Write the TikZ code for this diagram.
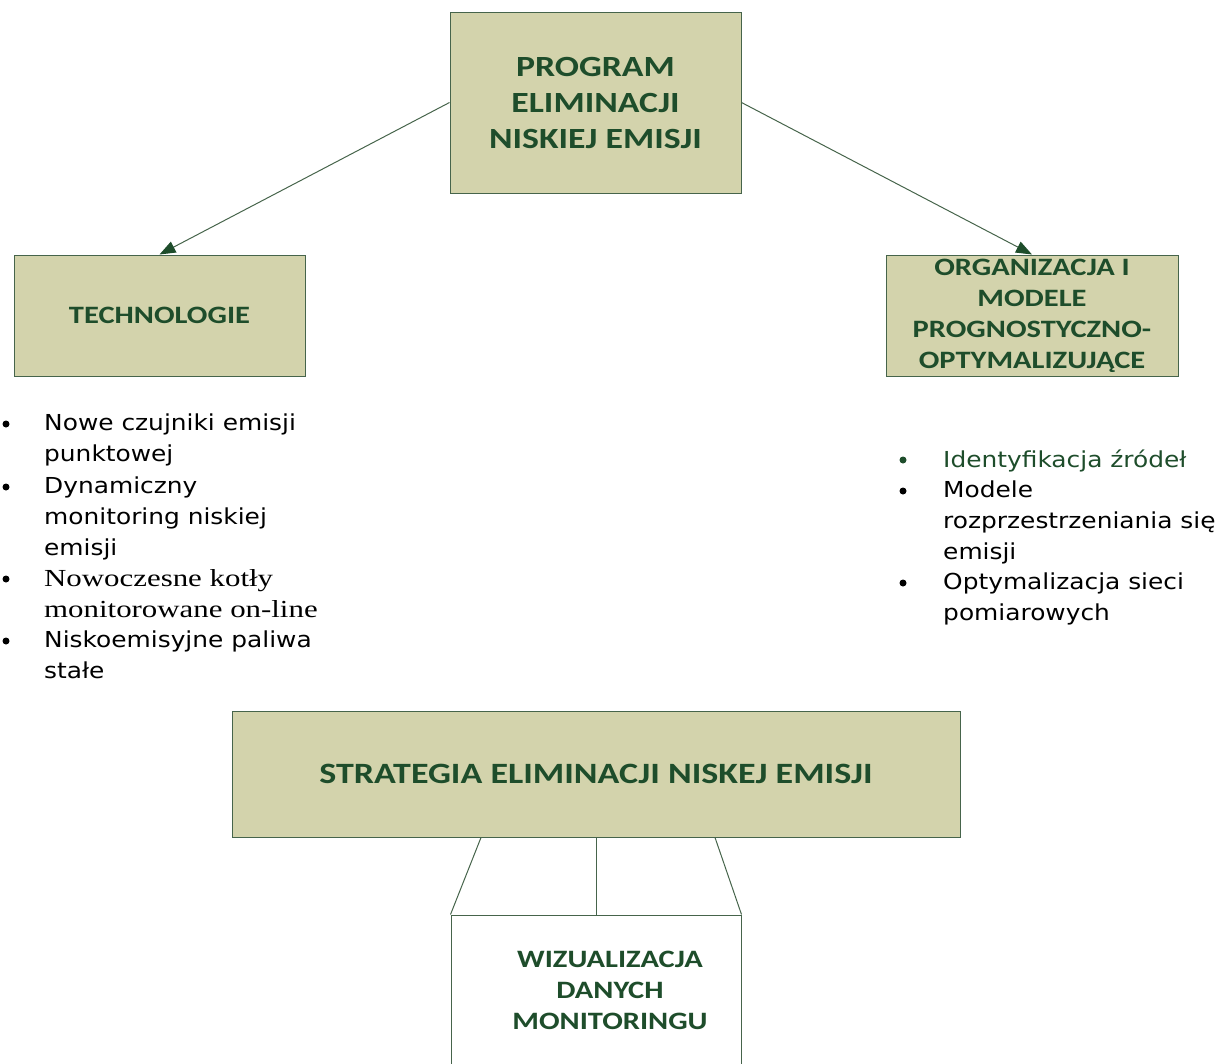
\documentclass[tikz,border=0pt]{standalone}
\usepackage{fontspec}
\usetikzlibrary{arrows.meta}
\newfontfamily\boxfont{Carlito}[FakeStretch=1.22]
\newfontfamily\listfont{DejaVu Sans}[FakeStretch=1.13]
\newfontfamily\oldfont{Liberation Serif}[FakeStretch=1.26]
\definecolor{khaki}{RGB}{211,211,172}
\definecolor{darkgr}{RGB}{30,77,43}
\definecolor{edge}{RGB}{70,100,75}

\begin{document}
\begin{tikzpicture}[x=1pt,y=-1pt]
	\tikzstyle{box} = [draw=edge, line width=1pt, fill=khaki, rectangle, inner sep=0pt, align=center, text=darkgr]
	\tikzstyle{item} = [anchor=north west, inner sep=0pt, align=left, font=\listfont\fontsize{22}{31}\selectfont]
	\tikzstyle{dot} = [circle, fill=black, inner sep=0pt, minimum size=7pt]
	\tikzstyle{conn} = [draw=edge, line width=1pt]
	
	\clip (0,0) rectangle (1217,1063);
	
	\node [box, minimum width=291, minimum height=181, font=\boxfont\bfseries\fontsize{29.3}{36}\selectfont] (prog) at (595.5,102.5) {PROGRAM\\ELIMINACJI\\NISKIEJ EMISJI};
	\node [box, minimum width=291, minimum height=121, font=\boxfont\bfseries\fontsize{25}{31}\selectfont] (tech) at (159.5,315.5) {TECHNOLOGIE};
	\node [box, minimum width=292, minimum height=121, font=\boxfont\bfseries\fontsize{25}{31}\selectfont] (org) at (1032,315.5) {ORGANIZACJA I\\MODELE\\PROGNOSTYCZNO-\\OPTYMALIZUJĄCE};
	\node [box, minimum width=728, minimum height=126, font=\boxfont\bfseries\fontsize{29.5}{31}\selectfont] (strat) at (596,774) {STRATEGIA ELIMINACJI NISKEJ EMISJI};
	\node [draw=edge, line width=1pt, fill=white, minimum width=290, minimum height=200] (wiz) at (596,1015) {};
	\node [text=darkgr, align=center, font=\boxfont\bfseries\fontsize{25}{31}\selectfont] (wizlbl) at (610,990) {WIZUALIZACJA\\DANYCH\\MONITORINGU};
	
	\draw [conn, -{Triangle[length=16pt,width=12pt,color=darkgr]}] (prog.west) -- (tech.north);
	\draw [conn, -{Triangle[length=16pt,width=12pt,color=darkgr]}] (prog.east) -- (org.north);
	
	\draw [conn] ([xshift=-115]strat.south) -- (wiz.north west);
	\draw [conn] (strat.south) -- (wiz.north);
	\draw [conn] ([xshift=119]strat.south) -- (wiz.north east);
	
	\node [dot] (b1) at (6,424) {};
	\node [item] (t1) at (44,414) {Nowe czujniki emisji\\punktowej};
	\node [dot] (b2) at (6,487) {};
	\node [item] (t2) at (44,477) {Dynamiczny\\monitoring niskiej\\emisji};
	\node [dot] (b3) at (6,579) {};
	\node [item, font=\oldfont\fontsize{24.5}{31}\selectfont] (t3) at (44,569) {Nowoczesne kotły\\monitorowane on-line};
	\node [dot] (b4) at (6,641) {};
	\node [item] (t4) at (44,631) {Niskoemisyjne paliwa\\stałe};
	
	\node [dot, fill=darkgr] (c1) at (903,460) {};
	\node [item, text=darkgr] (r1) at (943,450) {Identyfikacja źródeł};
	\node [dot] (c2) at (903,491) {};
	\node [item] (r2) at (943,481) {Modele\\rozprzestrzeniania się\\emisji};
	\node [dot] (c3) at (903,583) {};
	\node [item] (r3) at (943,573) {Optymalizacja sieci\\pomiarowych};
	
\end{tikzpicture}
\end{document}
